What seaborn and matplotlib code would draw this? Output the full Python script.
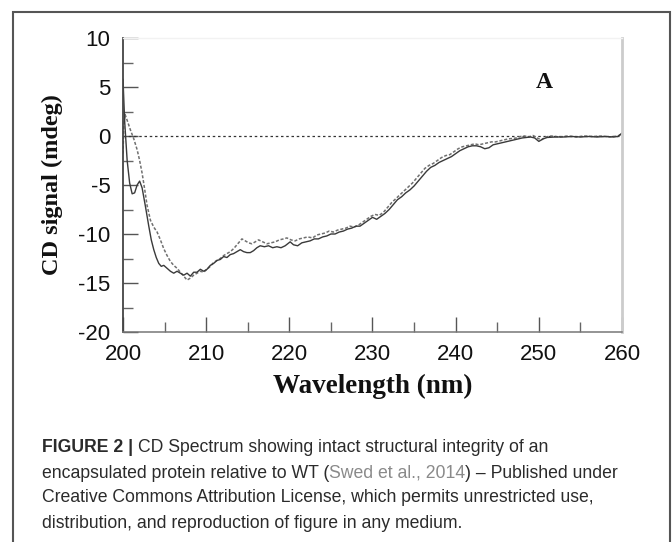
import numpy as np
import pandas as pd
import matplotlib
matplotlib.use("Agg")
import matplotlib.pyplot as plt
import matplotlib.patches as patches
from matplotlib.ticker import MultipleLocator
import seaborn as sns

# CD spectra (wavelength in nm, signal in mdeg)
wl_solid = [200.0, 200.2, 200.5, 200.8, 201.1, 201.4, 201.7, 202.0, 202.3, 202.7,
            203.1, 203.4, 203.7, 204.0, 204.3, 204.6, 204.9, 205.3, 205.7, 206.1,
            206.5, 206.9, 207.3, 207.7, 208.1, 208.5, 208.9, 209.3, 209.7, 210.1,
            210.5, 210.9, 211.3, 211.7, 212.1, 212.5, 212.9, 213.3, 213.7, 214.1,
            214.5, 214.9, 215.3, 215.7, 216.1, 216.5, 217.0, 217.5, 218.0, 218.5,
            219.0, 219.5, 220.1, 220.5, 221.0, 221.5, 222.0, 222.5, 223.0, 223.5,
            224.0, 224.5, 225.0, 225.5, 226.0, 226.5, 227.0, 227.5, 228.0, 228.5,
            229.0, 229.5, 230.0, 230.5, 231.0, 231.5, 232.0, 232.5, 233.0, 233.5,
            234.0, 234.5, 235.0, 235.5, 236.0, 236.5, 237.0, 237.5, 238.0, 238.5,
            239.0, 239.5, 240.0, 240.5, 241.0, 241.5, 242.0, 242.5, 243.0, 243.5,
            244.0, 244.5, 245.0, 245.5, 246.0, 246.5, 247.0, 247.5, 248.0, 248.5,
            249.0, 249.5, 250.0, 250.5, 251.0, 252.0, 253.0, 254.0, 255.0, 256.0,
            257.0, 258.0, 259.0, 259.5, 260.0]
cd_solid = [5.8, 1.5, -2.5, -4.8, -5.9, -5.8, -5.0, -4.6, -5.3, -7.2,
            -9.2, -10.6, -11.6, -12.4, -13.0, -13.3, -13.2, -13.5, -13.8, -14.0,
            -13.8, -14.0, -14.2, -14.0, -14.3, -13.9, -13.9, -13.6, -13.8, -13.6,
            -13.2, -13.0, -12.7, -12.6, -12.3, -12.4, -12.1, -12.0, -11.8, -11.6,
            -11.8, -11.9, -11.9, -11.7, -11.4, -11.2, -11.3, -11.2, -11.4, -11.3,
            -11.4, -11.2, -10.8, -11.1, -11.2, -10.9, -10.8, -10.7, -10.5, -10.5,
            -10.3, -10.2, -10.0, -10.0, -9.8, -9.7, -9.5, -9.4, -9.2, -9.2,
            -8.9, -8.6, -8.3, -8.5, -8.2, -7.9, -7.5, -7.0, -6.5, -6.2,
            -5.8, -5.5, -5.1, -4.6, -4.1, -3.6, -3.2, -3.0, -2.7, -2.5,
            -2.3, -2.1, -1.8, -1.5, -1.3, -1.1, -1.0, -1.0, -1.1, -1.3,
            -1.2, -0.9, -0.8, -0.7, -0.6, -0.5, -0.4, -0.3, -0.2, -0.15,
            -0.1, -0.2, -0.55, -0.3, -0.15, -0.1, -0.1, -0.05, -0.1, -0.05,
            -0.1, -0.05, -0.1, -0.05, 0.3]

wl_dotted = [200.0, 200.1, 200.25, 200.5, 200.9, 201.3, 201.7, 202.0, 202.3, 202.6,
             202.9, 203.3, 203.7, 204.1, 204.5, 204.9, 205.3, 205.7, 206.1, 206.5,
             206.9, 207.3, 207.7, 208.1, 208.5, 208.9, 209.3, 209.7, 210.1, 210.5,
             210.9, 211.3, 211.7, 212.1, 212.5, 212.9, 213.3, 213.7, 214.0, 214.3,
             214.7, 215.1, 215.5, 215.9, 216.3, 216.8, 217.3, 217.8, 218.3, 218.8,
             219.3, 219.7, 220.2, 220.7, 221.2, 221.7, 222.2, 222.8, 223.3, 223.8,
             224.3, 224.8, 225.3, 225.8, 226.3, 226.8, 227.3, 227.8, 228.3, 228.8,
             229.3, 229.8, 230.3, 230.8, 231.3, 231.8, 232.3, 232.8, 233.3, 233.8,
             234.3, 234.8, 235.3, 235.8, 236.3, 236.8, 237.3, 237.8, 238.3, 238.8,
             239.3, 239.8, 240.3, 240.8, 241.3, 241.8, 242.3, 242.8, 243.3, 243.8,
             244.3, 244.8, 245.3, 245.8, 246.3, 246.8, 247.3, 247.8, 248.3, 248.8,
             249.3, 249.8, 250.3, 250.8, 251.5, 252.5, 253.5, 254.5, 255.5, 256.5,
             257.5, 258.5, 259.5, 260.0]
cd_dotted = [-1.8, 1.0, 2.2, 1.6, 0.6, -0.3, -1.4, -2.5, -3.8, -5.4,
             -7.1, -8.6, -9.3, -9.8, -10.6, -11.5, -12.2, -12.8, -13.2, -13.5,
             -13.9, -14.3, -14.7, -14.5, -14.2, -14.0, -13.8, -13.9, -13.6, -13.3,
             -12.9, -12.7, -12.5, -12.2, -12.0, -11.8, -11.5, -11.1, -10.8, -10.5,
             -10.7, -10.9, -11.0, -10.8, -10.6, -10.8, -11.0, -10.9, -10.8, -10.6,
             -10.5, -10.4, -10.6, -10.7, -10.5, -10.4, -10.3, -10.4, -10.1, -10.0,
             -9.9, -9.7, -9.8, -9.6, -9.5, -9.4, -9.2, -9.3, -9.1, -8.8,
             -8.5, -8.2, -8.0, -8.1, -7.8, -7.3, -6.8, -6.4, -6.0, -5.6,
             -5.2, -4.8, -4.3, -3.8, -3.3, -3.0, -2.8, -2.5, -2.2, -2.0,
             -1.9, -1.6, -1.3, -1.1, -1.0, -0.9, -0.8, -0.9, -0.8, -0.7,
             -0.6, -0.6, -0.5, -0.4, -0.3, -0.25, -0.2, -0.05, 0.0, -0.1,
             0.05, -0.2, -0.4, -0.1, 0.0, -0.1, 0.0, -0.1, 0.0, -0.05,
             0.0, -0.1, 0.0, 0.2]

x_ticks = [200, 210, 220, 230, 240, 250, 260]
y_ticks = [-20, -15, -10, -5, 0, 5, 10]

caption_lines = [
    [("FIGURE 2 | ", "bold", "#2b2b2b"),
     ("CD Spectrum showing intact structural integrity of an", "normal", "#2b2b2b")],
    [("encapsulated protein relative to WT (", "normal", "#2b2b2b"),
     ("Swed et al., 2014", "normal", "#8a8a8a"),
     (") \u2013 Published under", "normal", "#2b2b2b")],
    [("Creative Commons Attribution License, which permits unrestricted use,", "normal", "#2b2b2b")],
    [("distribution, and reproduction of figure in any medium.", "normal", "#2b2b2b")],
]

sns.set_style("white")
plt.rcParams["font.family"] = ["Liberation Sans", "DejaVu Sans"]
plt.rcParams["axes.unicode_minus"] = False

W, H = 672, 542
fig = plt.figure(figsize=(W / 100, H / 100), dpi=100)
ax = fig.add_axes([123 / W, 1 - 332 / H, (622 - 123) / W, (332 - 38) / H])

df_solid = pd.DataFrame({"wl": wl_solid, "cd": cd_solid})
df_dotted = pd.DataFrame({"wl": wl_dotted, "cd": cd_dotted})

ax.axhline(0, color="#333333", lw=0.9, linestyle=(0, (2, 2.2)), zorder=1)
sns.lineplot(data=df_dotted, x="wl", y="cd", ax=ax, color="#707070", lw=1.1,
             linestyle=(0, (2, 1.2)), sort=False, estimator=None)
sns.lineplot(data=df_solid, x="wl", y="cd", ax=ax, color="#3a3a3a", lw=1.0,
             sort=False, estimator=None)

ax.set_xlim(200, 260)
ax.set_ylim(-20, 10)
ax.set_xticks(x_ticks)
ax.set_yticks(y_ticks)
ax.xaxis.set_minor_locator(MultipleLocator(5))
ax.yaxis.set_minor_locator(MultipleLocator(2.5))
ax.tick_params(axis="both", which="both", bottom=True, left=True,
               top=False, right=False)
ax.tick_params(axis="both", which="major", direction="in", length=11, width=1,
               color="#555555", labelsize=16, labelcolor="#111111")
ax.tick_params(axis="both", which="minor", direction="in", length=7, width=1,
               color="#666666")
ax.tick_params(axis="x", which="major", pad=9)
ax.tick_params(axis="y", which="major", pad=9)

ax.spines["left"].set_color("#444444")
ax.spines["left"].set_linewidth(1.3)
ax.spines["bottom"].set_color("#777777")
ax.spines["bottom"].set_linewidth(1.1)
ax.spines["right"].set_color("#cccccc")
ax.spines["right"].set_linewidth(2.0)
ax.spines["top"].set_color("#f2f2f2")
ax.spines["top"].set_linewidth(1.0)

serif = ["Liberation Serif", "DejaVu Serif"]
ax.set_xlabel("Wavelength (nm)", family=serif, weight="bold", fontsize=19.5,
              color="#111111", labelpad=6)
ax.set_ylabel("CD signal (mdeg)", family=serif, weight="bold", fontsize=17.5,
              color="#111111", labelpad=11)
ax.text(250.7, 5.5, "A", family=serif, weight="bold", fontsize=17,
        ha="center", va="center", color="#111111")

# outer frame of the figure panel
frame = patches.Rectangle((13 / W, -0.05), (670 - 13) / W, 1.05 - 12 / H,
                          transform=fig.transFigure, fill=False,
                          edgecolor="#555555", lw=1.5, clip_on=False)
fig.patches.append(frame)

# caption, drawn piece by piece so bold / gray parts sit inline
fig.canvas.draw()
renderer = fig.canvas.get_renderer()
line_y = [448, 473, 498, 523]
for segs, y in zip(caption_lines, line_y):
    x = 41.5
    for text, weight, color in segs:
        t = fig.text(x / W, 1 - y / H, text, fontsize=12.7, weight=weight,
                     color=color, ha="left", va="center")
        x += t.get_window_extent(renderer).width

fig.savefig("out.png", dpi=100)
